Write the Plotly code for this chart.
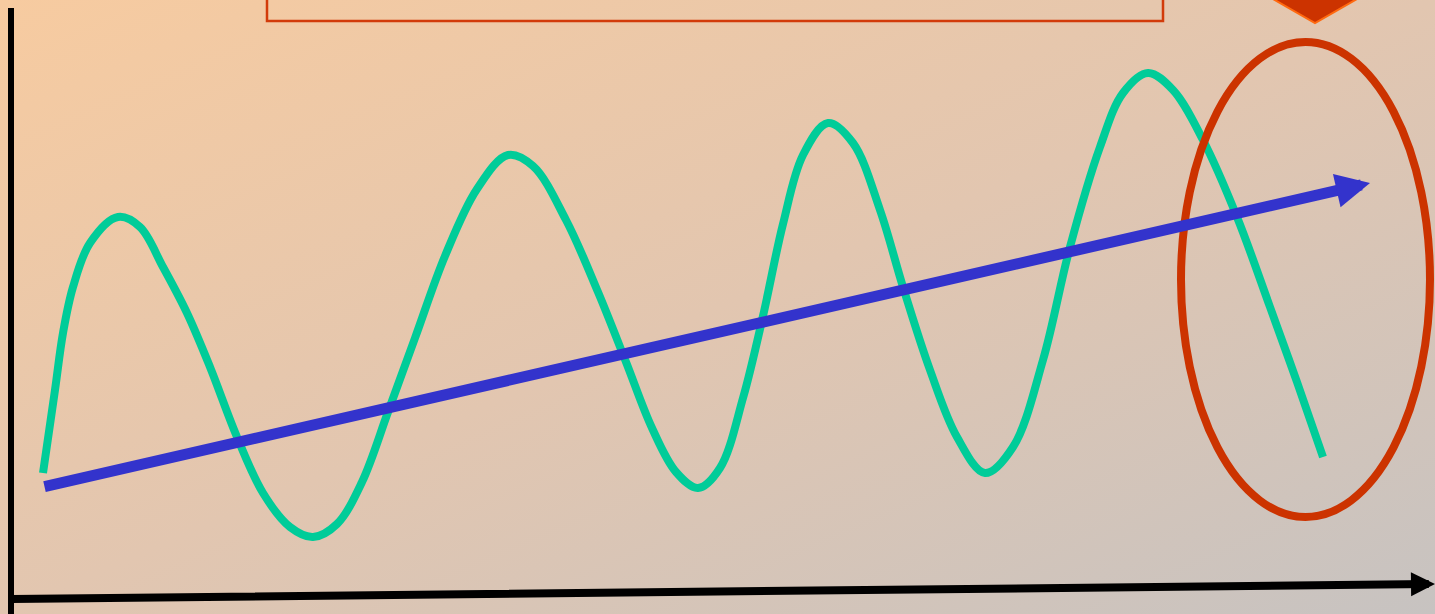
import base64
import plotly.graph_objects as go

W, H = 1435, 614

wave_x = [43, 55, 63, 73, 90, 118,
          140, 163, 187, 210, 237, 263, 290, 313,
          337, 362, 388, 415, 445, 477, 508,
          533, 566, 598, 626, 652, 676, 698,
          720, 743, 763, 783, 803, 828,
          853, 880, 903, 930, 957, 985,
          1013, 1043, 1070, 1100, 1123, 1148,
          1173, 1203, 1237, 1270, 1297, 1323]
wave_py = [473, 390, 333, 287, 243, 217,
           227, 267, 313, 367, 437, 493, 527, 537,
           524, 482, 412, 338, 256, 189, 155,
           166, 220, 292, 362, 428, 472, 488,
           468, 398, 316, 224, 155, 123,
           143, 210, 287, 370, 437, 473,
           447, 360, 247, 147, 93, 73,
           90, 140, 217, 307, 382, 457]
wave_y = [H - v for v in wave_py]

# Upward trend arrow (start, end)
trend_x = [43, 1370]
trend_y = [H - 487, H - 183]

# Horizontal axis arrow (start, end)
haxis_x = [10, 1435]
haxis_y = [H - 599, H - 584]

# Highlight ellipse bounds
ellipse_x = [1181, 1430]
ellipse_y = [H - 517, H - 42]

# Title box bounds
title_box_x = [267, 1163]
title_box_y = [H - 21, H + 10]

# Background gradient
svg = f'''<svg xmlns="http://www.w3.org/2000/svg" width="{W}" height="{H}" viewBox="0 0 {W} {H}" preserveAspectRatio="none">
<defs><linearGradient id="g" x1="0" y1="0" x2="1" y2="1">
<stop offset="0" stop-color="#F7CBA0"/>
<stop offset="0.5" stop-color="#E2C6B0"/>
<stop offset="1" stop-color="#C7C3C1"/>
</linearGradient></defs>
<rect width="{W}" height="{H}" fill="url(#g)"/></svg>'''
bg_src = "data:image/svg+xml;base64," + base64.b64encode(svg.encode()).decode()

fig = go.Figure()

fig.add_trace(go.Scatter(
    x=wave_x, y=wave_y, mode="lines",
    line=dict(color="#00CC99", width=8, shape="spline", smoothing=1.0, simplify=False),
    hoverinfo="skip", showlegend=False,
))

shapes = [
    # vertical axis
    dict(type="line", xref="x", yref="y", x0=11, x1=11, y0=-5, y1=H - 8,
         line=dict(color="black", width=6)),
    # ellipse
    dict(type="circle", xref="x", yref="y", x0=ellipse_x[0], x1=ellipse_x[1],
         y0=ellipse_y[0], y1=ellipse_y[1], line=dict(color="#CC3300", width=8)),
    # title box
    dict(type="rect", xref="x", yref="y", x0=title_box_x[0], x1=title_box_x[1],
         y0=title_box_y[0], y1=title_box_y[1], line=dict(color="#D23B0A", width=2.5)),
    # downward pointer at top right
    dict(type="path", xref="x", yref="y",
         path=f"M 1266,{H + 5} L 1364,{H + 5} L 1315,{H - 23} Z",
         fillcolor="#CC3300", line=dict(color="#FF6A10", width=2)),
]

annotations = [
    dict(x=trend_x[1], y=trend_y[1], ax=trend_x[0], ay=trend_y[0], axref="x", ayref="y",
         xref="x", yref="y", text="", showarrow=True, arrowhead=2, arrowsize=0.62,
         arrowwidth=11, arrowcolor="#3333CC", standoff=0),
    dict(x=haxis_x[1], y=haxis_y[1], ax=haxis_x[0], ay=haxis_y[0], axref="x", ayref="y",
         xref="x", yref="y", text="", showarrow=True, arrowhead=2, arrowsize=0.6,
         arrowwidth=8, arrowcolor="black", standoff=0),
]

fig.update_layout(
    width=W, height=H,
    margin=dict(l=0, r=0, t=0, b=0),
    paper_bgcolor="#E2C6B0",
    plot_bgcolor="rgba(0,0,0,0)",
    xaxis=dict(range=[0, W], visible=False, fixedrange=True),
    yaxis=dict(range=[0, H], visible=False, fixedrange=True),
    shapes=shapes,
    annotations=annotations,
    images=[dict(source=bg_src, xref="paper", yref="paper", x=0, y=1, sizex=1, sizey=1,
                 sizing="stretch", layer="below", xanchor="left", yanchor="top")],
    showlegend=False,
)

fig.write_html(
    "out.html",
    config={"displayModeBar": False},
    post_script="document.body.style.margin='0';document.body.style.overflow='hidden';",
)
